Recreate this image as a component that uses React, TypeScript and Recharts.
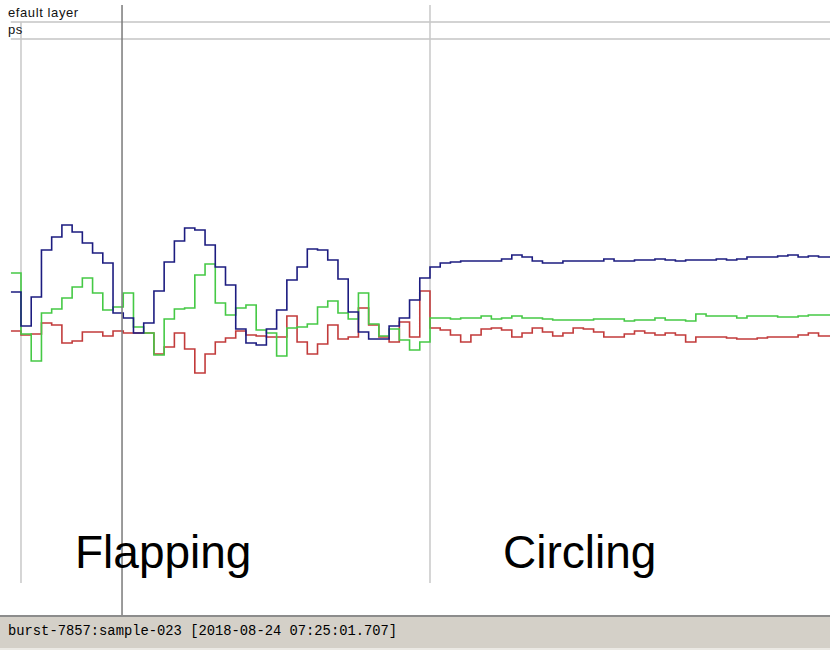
import { LineChart, Line, XAxis, YAxis, ReferenceLine } from "recharts"

// level per sample step (arbitrary units)
const blueLevel = [
  48, 14, 43, 90, 103, 115, 108, 97, 87, 77, 27, 22, 7, 17, 49, 78, 99, 112, 110, 95,
  73, 55, 11, -3, -5, 11, 30, 60, 73, 91, 90, 80, 61, 28, 8, 1, 1, 14, 22, 40,
  62, 73, 77, 78, 79, 79, 79, 79, 81, 85, 83, 79, 77, 77, 79, 79, 79, 79, 81, 79,
  79, 80, 80, 81, 80, 79, 80, 80, 80, 81, 80, 81, 83, 83, 83, 84, 85, 83, 84, 83, 83,
]
const greenLevel = [
  67, 6, -21, 27, 31, 42, 53, 62, 47, 30, 33, 47, 13, 7, -15, 21, 31, 32, 65, 76,
  37, 25, 32, 35, 10, 7, -16, 12, 13, 16, 33, 39, 27, 21, 47, 16, 4, 11, 0, -10,
  -2, 22, 22, 21, 22, 22, 24, 21, 22, 24, 22, 22, 21, 20, 20, 20, 20, 21, 21, 21,
  19, 20, 20, 22, 20, 20, 19, 26, 24, 24, 24, 22, 24, 24, 24, 23, 23, 24, 25, 25, 25,
]
const redLevel = [
  9, 5, 6, 17, 15, -3, -1, 8, 8, 4, 9, 7, 7, 7, -14, -7, 7, -9, -33, -14,
  -2, 2, 9, 5, 4, 3, 3, 24, -2, -14, -4, 15, 1, 3, 32, 15, 3, -2, 18, 3,
  49, 12, 10, 5, -2, 5, 11, 12, 10, 3, 7, 12, 8, 4, 7, 12, 11, 8, 3, 3,
  6, 9, 7, 5, 7, 5, -2, 3, 3, 3, 2, 1, 1, 2, 3, 3, 3, 5, 7, 4, 4,
]

// marker positions (sample index)
const markerStart = 1
const cursorAt = 10.88
const phaseSplit = 41

const headerRows = ["efault layer", "ps"]
const phaseLabels = ["Flapping", "Circling"]
const statusText = "burst-7857:sample-023 [2018-08-24 07:25:01.707]"

const chartData = blueLevel.map((b, i) => ({
  t: i,
  blue: b,
  green: greenLevel[i],
  red: redLevel[i],
}))
// closing row so the last step is drawn to the edge
chartData.push({ ...chartData[chartData.length - 1], t: chartData.length })

export default function App() {
  return (
    <div
      style={{
        position: "absolute",
        left: 0,
        top: 0,
        width: 830,
        height: 651,
        background: "#fff",
        overflow: "hidden",
        fontFamily: "Arial, 'Liberation Sans', sans-serif",
      }}
    >
      <LineChart
        width={830}
        height={651}
        data={chartData}
        margin={{ top: 0, right: 0, bottom: 0, left: 10.775 }}
      >
        <XAxis type="number" dataKey="t" domain={[0, 80.12]} hide allowDataOverflow />
        <YAxis type="number" domain={[-311, 340]} hide allowDataOverflow />
        <ReferenceLine y={318} stroke="#c4c4c4" strokeWidth={1.3} />
        <ReferenceLine y={301} stroke="#c4c4c4" strokeWidth={1.3} />
        <ReferenceLine
          segment={[{ x: markerStart, y: 318 }, { x: markerStart, y: -243 }]}
          stroke="#c8c8c8"
          strokeWidth={1.5}
        />
        <ReferenceLine
          segment={[{ x: phaseSplit, y: 335 }, { x: phaseSplit, y: -243 }]}
          stroke="#c8c8c8"
          strokeWidth={1.5}
        />
        <Line
          type="stepAfter"
          dataKey="red"
          stroke="#c23b3b"
          strokeWidth={1.6}
          dot={false}
          isAnimationActive={false}
        />
        <Line
          type="stepAfter"
          dataKey="green"
          stroke="#45c945"
          strokeWidth={1.6}
          dot={false}
          isAnimationActive={false}
        />
        <Line
          type="stepAfter"
          dataKey="blue"
          stroke="#1c1c80"
          strokeWidth={1.6}
          dot={false}
          isAnimationActive={false}
        />
        <ReferenceLine
          segment={[{ x: cursorAt, y: 335 }, { x: cursorAt, y: -282 }]}
          stroke="#7a7a7a"
          strokeWidth={1.5}
        />
      </LineChart>

      {headerRows.map((txt, i) => (
        <div
          key={txt}
          style={{
            position: "absolute",
            left: 8,
            top: 5 + i * 17,
            fontSize: 13,
            lineHeight: "15px",
            letterSpacing: 0.6,
            color: "#111",
          }}
        >
          {txt}
        </div>
      ))}

      {phaseLabels.map((txt, i) => (
        <div
          key={txt}
          style={{
            position: "absolute",
            left: i === 0 ? 75 : 503,
            top: 529,
            fontSize: 46,
            lineHeight: "46px",
            color: "#000",
          }}
        >
          {txt}
        </div>
      ))}

      <div
        style={{
          position: "absolute",
          left: 0,
          top: 615,
          width: 830,
          height: 31,
          background: "#d4d0c8",
          borderTop: "2px solid #8c8c8c",
          borderBottom: "2px solid #ebe9e4",
        }}
      >
        <div
          style={{
            position: "absolute",
            left: 8,
            top: 7,
            fontFamily: "'Liberation Mono', 'Courier New', monospace",
            fontSize: 13.8,
            lineHeight: "16px",
            color: "#000",
          }}
        >
          {statusText}
        </div>
      </div>
    </div>
  )
}
